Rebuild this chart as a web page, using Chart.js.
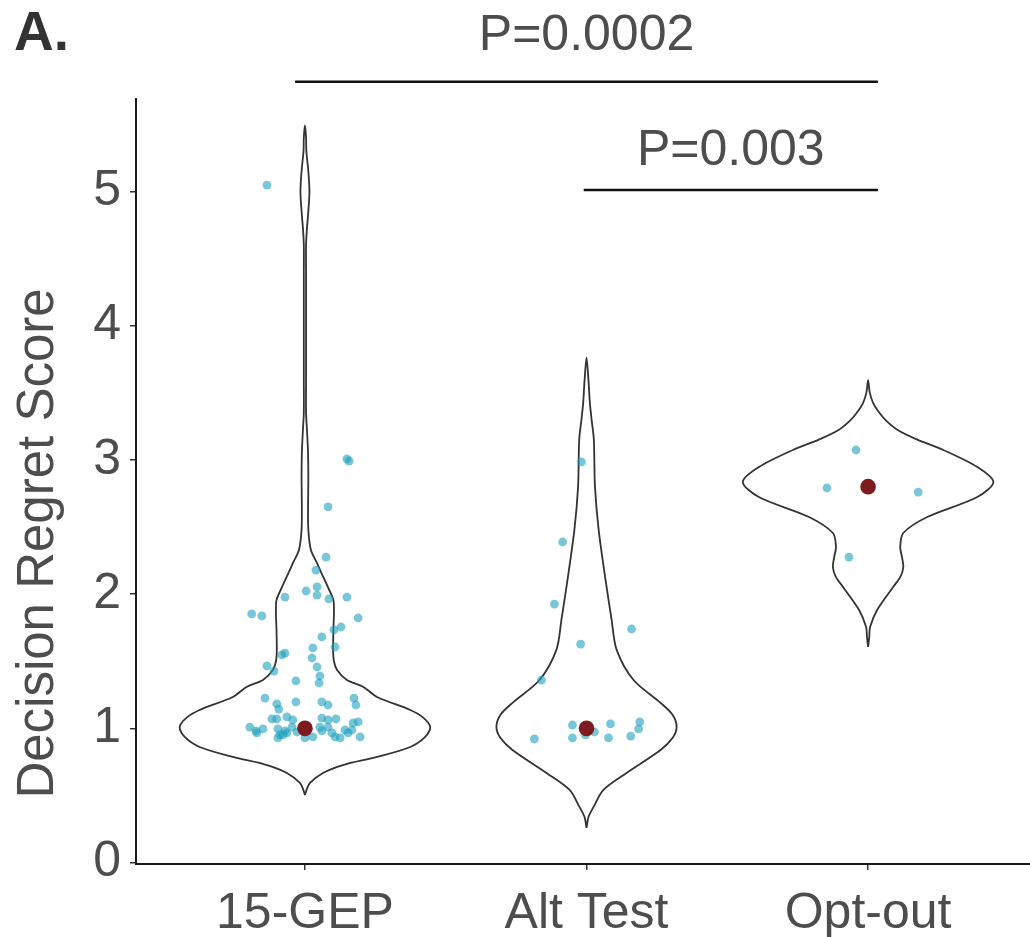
<!DOCTYPE html>
<html>
<head>
<meta charset="utf-8">
<script src="https://cdn.jsdelivr.net/npm/chart.js@4.4.1/dist/chart.umd.min.js"></script>
<style>
  html,body{margin:0;padding:0;background:#fff;overflow:hidden}
  #wrap{width:1030px;height:937px;position:relative}
</style>
</head>
<body>
<div id="wrap"><canvas id="chart"></canvas></div>
<script>
// categories and summary values
const groups = ['15-GEP', 'Alt Test', 'Opt-out'];
const medians = [1.0, 1.0, 2.8];
const yTicks = [0, 1, 2, 3, 4, 5];

// violin outlines: score levels and half-widths (category units)
const gepViolinY = [0.504,0.55,0.594,0.668,0.727,0.787,0.861,0.936,1.01,1.08,1.137,1.234,1.31,1.36,1.435,1.5,1.58,1.73,1.86,1.955,2.05,2.15,2.23,2.33,2.48,2.65,2.85,3.05,3.23,3.35,3.6,4.0,4.4,4.6,4.72,4.85,5.0,5.15,5.3,5.4,5.49];
const gepViolinW = [0,0.007,0.018,0.064,0.135,0.256,0.374,0.427,0.445,0.42,0.374,0.256,0.206,0.149,0.114,0.103,0.1,0.101,0.103,0.101,0.082,0.06,0.043,0.021,0.012,0.011,0.012,0.011,0.007,0.004,0.004,0.004,0.004,0.004,0.007,0.012,0.016,0.012,0.005,0.004,0];
const altViolinY = [0.258,0.34,0.415,0.542,0.668,0.839,0.93,1.01,1.1,1.19,1.36,1.585,1.81,2.1,2.48,2.8,3.15,3.3,3.42,3.59,3.76];
const altViolinW = [0,0.007,0.025,0.06,0.142,0.263,0.306,0.32,0.306,0.263,0.167,0.107,0.089,0.068,0.043,0.03,0.026,0.018,0.012,0.007,0];
const optViolinY = [1.606,1.68,1.755,1.882,2.053,2.13,2.202,2.28,2.351,2.455,2.574,2.723,2.835,2.946,3.073,3.15,3.222,3.29,3.35,3.423,3.5,3.594];
const optViolinW = [0,0.004,0.007,0.032,0.089,0.115,0.125,0.12,0.114,0.125,0.21,0.388,0.445,0.388,0.267,0.175,0.105,0.065,0.04,0.018,0.006,0];

// individual scores with their horizontal jitter (category units)
const gepJitter = [-0.135,0.149,0.157,0.082,0.075,0.039,0.004,0.043,0.043,0.085,0.149,-0.071,-0.189,-0.153,0.189,0.103,0.128,0.06,0.107,0.028,0.025,-0.082,-0.071,0.043,-0.135,-0.11,0.053,0.05,-0.032,-0.142,-0.032,-0.1,-0.093,0.06,0.082,0.174,0.181,-0.117,-0.1,-0.064,-0.043,-0.046,0.06,0.082,0.11,-0.196,-0.174,-0.171,-0.149,-0.096,-0.089,-0.071,-0.028,0.053,0.06,0.082,0.096,0.107,0.125,0.142,0.153,0.171,0.189,0.167,0.196,0.0,-0.096,0.028,-0.078,-0.064];
const gepScore  = [5.046,3.006,2.991,2.649,2.276,2.179,2.023,2.053,1.993,1.964,1.978,1.978,1.852,1.837,1.822,1.733,1.755,1.681,1.606,1.599,1.524,1.547,1.561,1.457,1.465,1.427,1.39,1.338,1.353,1.226,1.197,1.182,1.144,1.197,1.174,1.226,1.174,1.07,1.07,1.085,1.063,1.01,1.077,1.063,1.07,1.01,0.981,0.966,0.996,0.996,0.951,0.981,0.973,1.01,0.981,1.01,0.966,0.936,0.929,0.988,0.966,1.04,1.048,0.988,0.936,0.929,0.929,0.936,0.951,0.966];
const altJitter = [-0.018,-0.085,-0.114,0.16,-0.021,-0.16,-0.05,0.085,0.189,0.185,0.028,-0.004,-0.185,-0.05,0.078,0.157];
const altScore  = [2.984,2.388,1.926,1.74,1.628,1.36,1.025,1.033,1.048,0.996,0.973,0.951,0.921,0.929,0.929,0.943];
const optJitter = [-0.043,-0.146,0.178,-0.068];
const optScore  = [3.073,2.79,2.76,2.276];

// significance brackets
const bracketFrom = [-0.035, 0.99];
const bracketTo = [2.035, 2.035];
const bracketY = [5.815, 5.009];
const bracketLabelY = [6.05, 5.195];
const bracketLabels = ['P=0.0002', 'P=0.003'];

const FONT = '"Liberation Sans", Arial, Helvetica, sans-serif';
const TEXT = '#4d4d4d';

function violinPath(center, ys, ws) {
  const right = ys.map((v, i) => ({ x: center + ws[i], y: v }));
  const left = [];
  for (let k = ys.length - 2; k >= 0; k--) left.push({ x: center - ws[k], y: ys[k] });
  return right.concat(left);
}

const violinStyle = { type: 'scatter', showLine: true, fill: false, borderColor: '#333', borderWidth: 1.8, pointRadius: 0, tension: 0.3, order: 3 };
const dotStyle = { type: 'scatter', pointRadius: 4.4, pointBorderWidth: 0, backgroundColor: 'rgba(30,160,190,0.6)', order: 2 };

const datasets = [
  Object.assign({ data: violinPath(0, gepViolinY, gepViolinW) }, violinStyle),
  Object.assign({ data: violinPath(1, altViolinY, altViolinW) }, violinStyle),
  Object.assign({ data: violinPath(2, optViolinY, optViolinW) }, violinStyle),
  Object.assign({ data: gepScore.map((v, i) => ({ x: 0 + gepJitter[i], y: v })) }, dotStyle),
  Object.assign({ data: altScore.map((v, i) => ({ x: 1 + altJitter[i], y: v })) }, dotStyle),
  Object.assign({ data: optScore.map((v, i) => ({ x: 2 + optJitter[i], y: v })) }, dotStyle),
  { type: 'scatter', data: medians.map((v, i) => ({ x: i, y: v })), pointRadius: 7.8, pointBorderWidth: 0, backgroundColor: '#7d1c20', order: 1 }
];
bracketY.forEach((b, i) => {
  datasets.push({ type: 'scatter', showLine: true, clip: false, data: [{ x: bracketFrom[i], y: b }, { x: bracketTo[i], y: b }], borderColor: '#111', borderWidth: 2.5, pointRadius: 0, order: 0 });
});

const annotText = {
  id: 'annotText',
  afterDraw(chart) {
    const { ctx, chartArea } = chart;
    const x = chart.scales.x, y = chart.scales.y;
    ctx.save();
    ctx.fillStyle = TEXT;
    ctx.font = '50px ' + FONT;
    ctx.textAlign = 'center';
    ctx.textBaseline = 'alphabetic';
    bracketLabels.forEach((t, i) => {
      ctx.fillText(t, x.getPixelForValue((bracketFrom[i] + bracketTo[i]) / 2), y.getPixelForValue(bracketLabelY[i]));
    });
    // panel letter
    ctx.fillStyle = '#333';
    ctx.textAlign = 'left';
    ctx.font = 'bold 55px ' + FONT;
    ctx.fillText('A.', 14, 50);
    // y axis title
    ctx.fillStyle = TEXT;
    ctx.font = '51px ' + FONT;
    ctx.translate(53, (chartArea.top + chartArea.bottom) / 2 + 62);
    ctx.rotate(-Math.PI / 2);
    ctx.textAlign = 'center';
    ctx.fillText('Decision Regret Score', 0, 0);
    ctx.restore();
  }
};

new Chart(document.getElementById('chart').getContext('2d'), {
  type: 'scatter',
  data: { datasets },
  plugins: [annotText],
  options: {
    responsive: true,
    maintainAspectRatio: false,
    animation: false,
    devicePixelRatio: 1,
    layout: { autoPadding: false, padding: { top: 99, right: 0, bottom: 0, left: 0 } },
    plugins: { legend: { display: false }, tooltip: { enabled: false } },
    scales: {
      x: {
        type: 'linear', min: -0.6, max: 2.575,
        afterFit: s => { s.height = 73; s.paddingLeft = 0; s.paddingRight = 0; },
        afterBuildTicks: s => { s.ticks = groups.map((g, i) => ({ value: i })); },
        grid: { drawOnChartArea: false, drawTicks: true, tickLength: 6, color: '#333', lineWidth: 1.5 },
        border: { display: true, color: '#1a1a1a', width: 2 },
        ticks: { color: TEXT, font: { family: FONT, size: 50 }, padding: 14, maxRotation: 0, autoSkip: false, callback: v => groups[v] }
      },
      y: {
        type: 'linear', min: -0.01, max: 5.687,
        afterFit: s => { s.width = 136; s.paddingTop = 0; s.paddingBottom = 0; },
        afterBuildTicks: s => { s.ticks = yTicks.map(v => ({ value: v })); },
        grid: { drawOnChartArea: false, drawTicks: true, tickLength: 6, color: '#333', lineWidth: 1.5 },
        border: { display: true, color: '#1a1a1a', width: 2 },
        ticks: { color: TEXT, font: { family: FONT, size: 50 }, padding: 9 }
      }
    }
  }
});
</script>
</body>
</html>
